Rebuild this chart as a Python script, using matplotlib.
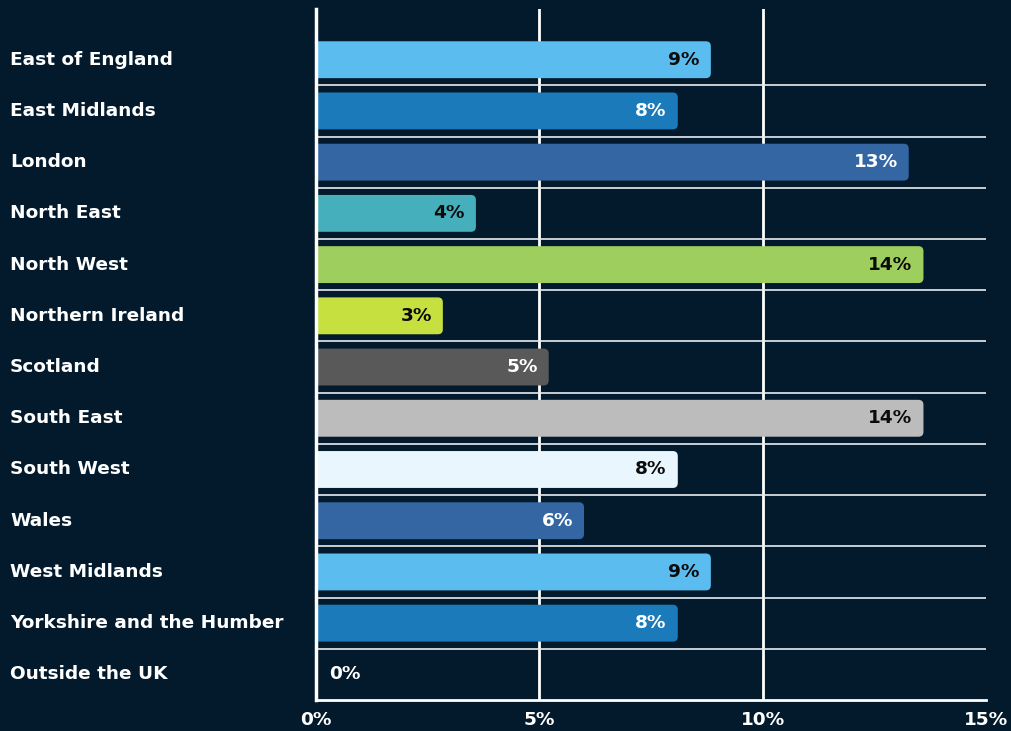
import matplotlib
matplotlib.use("Agg")
import matplotlib.pyplot as plt
from matplotlib.patches import FancyBboxPatch

regions = ["East of England", "East Midlands", "London", "North East", "North West",
           "Northern Ireland", "Scotland", "South East", "South West", "Wales",
           "West Midlands", "Yorkshire and the Humber", "Outside the UK"]
shares = [8.84, 8.1, 13.27, 3.58, 13.6, 2.84, 5.21, 13.6, 8.1, 6.0, 8.84, 8.1, 0.0]
colors = ["#5bbcef", "#1a7aba", "#3366a3", "#45afbb", "#9ecf5e", "#c6e040",
          "#595959", "#bcbcbc", "#eaf6fd", "#3366a3", "#5bbcef", "#1a7aba", "#1a7aba"]
label_dark = [True, False, False, True, True, True, False, True, True, False, True, False, False]
xticks = [0, 5, 10, 15]

BG = "#021a2b"
W, H = 1011, 731
plt.rcParams["font.family"] = ["DejaVu Sans"]
plt.rcParams["font.weight"] = "bold"

fig = plt.figure(figsize=(W / 100, H / 100), dpi=100, facecolor=BG)
ax_l, ax_r, ax_b, ax_t = 316 / W, 986 / W, 31 / H, 722 / H
ax = fig.add_axes([ax_l, ax_b, ax_r - ax_l, ax_t - ax_b], facecolor=BG)

n = len(regions)
ax.set_xlim(0, 15)
ax.set_ylim(n - 0.5, -0.99)

# pixel scale for rounded corners
px_x = (ax_r - ax_l) * W / 15
px_y = (ax_t - ax_b) * H / (n - 0.5 + 0.99)
r_px = 5
bar_h = 0.72
fs = 13.3

# gridlines at 5 and 10 only (no line at 15%)
for x in xticks[1:-1]:
    ax.axvline(x, color="white", lw=2, zorder=1)
for i in range(n - 1):
    ax.axhline(i + 0.5, color="#e8ecef", lw=1.2, zorder=1)

# bars start a bit left of the axis so only the right corners look rounded
off = 0.4
for i, (v, c) in enumerate(zip(shares, colors)):
    if v <= 0:
        continue
    p = FancyBboxPatch((-off, i - bar_h / 2), v + off, bar_h,
                       boxstyle=f"round,pad=0,rounding_size={r_px / px_x}",
                       mutation_aspect=px_x / px_y, fc=c, ec="none", zorder=2)
    ax.add_patch(p)

for i, v in enumerate(shares):
    txt = f"{round(v):.0f}%"
    col = "#0b0b0b" if label_dark[i] else "white"
    if v > 1:
        ax.text(v - 11 / px_x, i, txt, ha="right", va="center", color=col,
                fontsize=fs, fontweight="bold", zorder=3)
    else:
        ax.text(13 / px_x, i, txt, ha="left", va="center", color="white",
                fontsize=fs, fontweight="bold", zorder=3)

ax.set_yticks(range(n))
ax.set_yticklabels(regions)
ax.set_xticks(xticks)
ax.set_xticklabels([f"{t}%" for t in xticks])
ax.tick_params(axis="y", length=0, pad=0, labelsize=fs, labelcolor="white")
ax.tick_params(axis="x", length=0, pad=8, labelsize=fs, labelcolor="white")
for lab in ax.get_yticklabels():
    lab.set_horizontalalignment("left")
    lab.set_verticalalignment("center")
    lab.set_fontweight("bold")
    lab.set_x(-(316 - 10) / (986 - 316))
for lab in ax.get_xticklabels():
    lab.set_fontweight("bold")

for s in ["top", "right"]:
    ax.spines[s].set_visible(False)
ax.spines["left"].set_color("white")
ax.spines["left"].set_linewidth(2.5)
ax.spines["bottom"].set_color("white")
ax.spines["bottom"].set_linewidth(2)
ax.spines["left"].set_zorder(4)

fig.savefig("out.png", dpi=100, facecolor=BG)
